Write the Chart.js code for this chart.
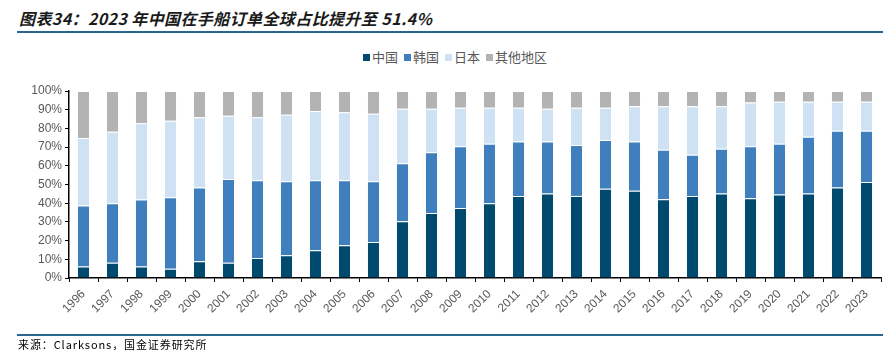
<!DOCTYPE html>
<html lang="zh-CN">
<head>
    <meta charset="UTF-8">
    <title>2023年中国在手船订单全球占比</title>
    <script src="https://cdn.jsdelivr.net/npm/chart.js"></script>
    <style>
        body {
            margin: 0;
            background: #fff;
            font-family: 'Noto Sans CJK SC', 'Noto Sans', sans-serif;
        }
        .wrap {
            position: relative;
            width: 896px;
            height: 359px;
            overflow: hidden;
        }
        .title {
            position: absolute;
            left: 19px;
            top: 6px;
            font-size: 16px;
            font-weight: bold;
            font-style: italic;
            color: #1a1a1a;
            white-space: nowrap;
            letter-spacing: 0.4px;
        }
        .rule {
            position: absolute;
            left: 17px;
            width: 866px;
            height: 2px;
            background: #2b6693;
        }
        .legend {
            position: absolute;
            top: 47px;
            left: 0;
            width: 910px;
            text-align: center;
            font-size: 13px;
            color: #595959;
        }
        .legend span {
            margin: 0 3px;
        }
        .legend i {
            display: inline-block;
            width: 7px;
            height: 7px;
            margin-right: 2px;
            vertical-align: 1px;
        }
        .source {
            position: absolute;
            left: 18px;
            top: 336px;
            font-size: 11px;
            color: #000;
            letter-spacing: 0.9px;
        }
        canvas {
            position: absolute;
            left: 0;
            top: 0;
        }
    </style>
</head>
<body>
<div class="wrap">
    <div class="title">图表34：2023 年中国在手船订单全球占比提升至 51.4%</div>
    <div class="rule" style="top:31px"></div>
    <div class="legend" id="legend"></div>
    <canvas id="chart" width="896" height="359"></canvas>
    <div class="rule" style="top:334px"></div>
    <div class="source">来源：Clarksons，国金证券研究所</div>
</div>

<script>
    // 数据（%）
    const years = ['1996', '1997', '1998', '1999', '2000', '2001', '2002', '2003', '2004', '2005',
        '2006', '2007', '2008', '2009', '2010', '2011', '2012', '2013', '2014', '2015',
        '2016', '2017', '2018', '2019', '2020', '2021', '2022', '2023'];
    const china = [6.2, 8.2, 6.2, 5.0, 8.9, 8.2, 10.7, 12.1, 14.8, 17.5,
        19.3, 30.4, 34.8, 37.5, 40.0, 43.9, 45.2, 43.9, 47.7, 46.6,
        42.1, 43.9, 45.2, 42.7, 44.6, 45.2, 48.4, 51.4];
    const korea = [32.6, 31.8, 35.8, 38.2, 39.5, 44.8, 41.6, 39.7, 37.5, 34.8,
        32.5, 31.0, 32.5, 33.0, 31.8, 29.1, 27.8, 27.2, 26.1, 26.4,
        26.5, 22.0, 23.9, 27.8, 27.2, 30.3, 30.4, 27.4];
    const japan = [36.0, 38.2, 40.7, 40.9, 37.5, 33.8, 33.6, 35.5, 37.0, 36.3,
        36.1, 29.1, 23.2, 20.6, 19.3, 18.1, 17.5, 20.0, 17.3, 18.8,
        23.2, 25.9, 22.7, 23.3, 22.5, 18.8, 15.5, 15.5];
    const other = [25.2, 21.8, 17.3, 15.9, 14.1, 13.2, 14.1, 12.7, 10.7, 11.4,
        12.1, 9.5, 9.5, 8.9, 8.9, 8.9, 9.5, 8.9, 8.9, 8.2,
        8.2, 8.2, 8.2, 6.2, 5.7, 5.7, 5.7, 5.7];
    const yTicks = [0, 10, 20, 30, 40, 50, 60, 70, 80, 90, 100];

    const series = [
        { label: '中国', data: china, color: '#004a70' },
        { label: '韩国', data: korea, color: '#3f7fbe' },
        { label: '日本', data: japan, color: '#cfe2f3' },
        { label: '其他地区', data: other, color: '#b3b3b3' }
    ];

    // 图例
    document.getElementById('legend').innerHTML = series.map(s =>
        `<span><i style="background:${s.color}"></i>${s.label}</span>`).join('');

    const tickFont = { family: "'Liberation Sans', Arial, sans-serif", size: 12 };

    new Chart(document.getElementById('chart'), {
        type: 'bar',
        data: {
            labels: years,
            datasets: series.map(s => ({
                label: s.label,
                data: s.data,
                backgroundColor: s.color,
                borderColor: 'rgba(255,255,255,0.25)',
                borderWidth: 1,
                barPercentage: 0.9,
                categoryPercentage: 0.5
            }))
        },
        options: {
            responsive: false,
            animation: false,
            layout: { padding: { top: 91, right: 15, left: 0, bottom: 0 } },
            plugins: {
                legend: { display: false },
                tooltip: { enabled: false }
            },
            scales: {
                x: {
                    stacked: true,
                    grid: {
                        display: true,
                        drawOnChartArea: false,
                        drawTicks: true,
                        tickLength: 4,
                        color: '#000',
                        offset: true
                    },
                    border: { display: true, color: '#000', width: 1.5 },
                    ticks: {
                        font: tickFont,
                        color: '#595959',
                        minRotation: 45,
                        maxRotation: 45,
                        padding: 5
                    },
                    afterFit: scale => { scale.height = 81; }
                },
                y: {
                    stacked: true,
                    min: 0,
                    max: 100,
                    afterBuildTicks: scale => { scale.ticks = yTicks.map(v => ({ value: v })); },
                    grid: {
                        display: true,
                        drawOnChartArea: false,
                        drawTicks: true,
                        tickLength: 4,
                        color: '#000'
                    },
                    border: { display: true, color: '#000', width: 1.5 },
                    ticks: {
                        font: tickFont,
                        color: '#595959',
                        padding: 3,
                        callback: v => v + '%'
                    },
                    afterFit: scale => { scale.width = 69; }
                }
            }
        }
    });
</script>
</body>
</html>
